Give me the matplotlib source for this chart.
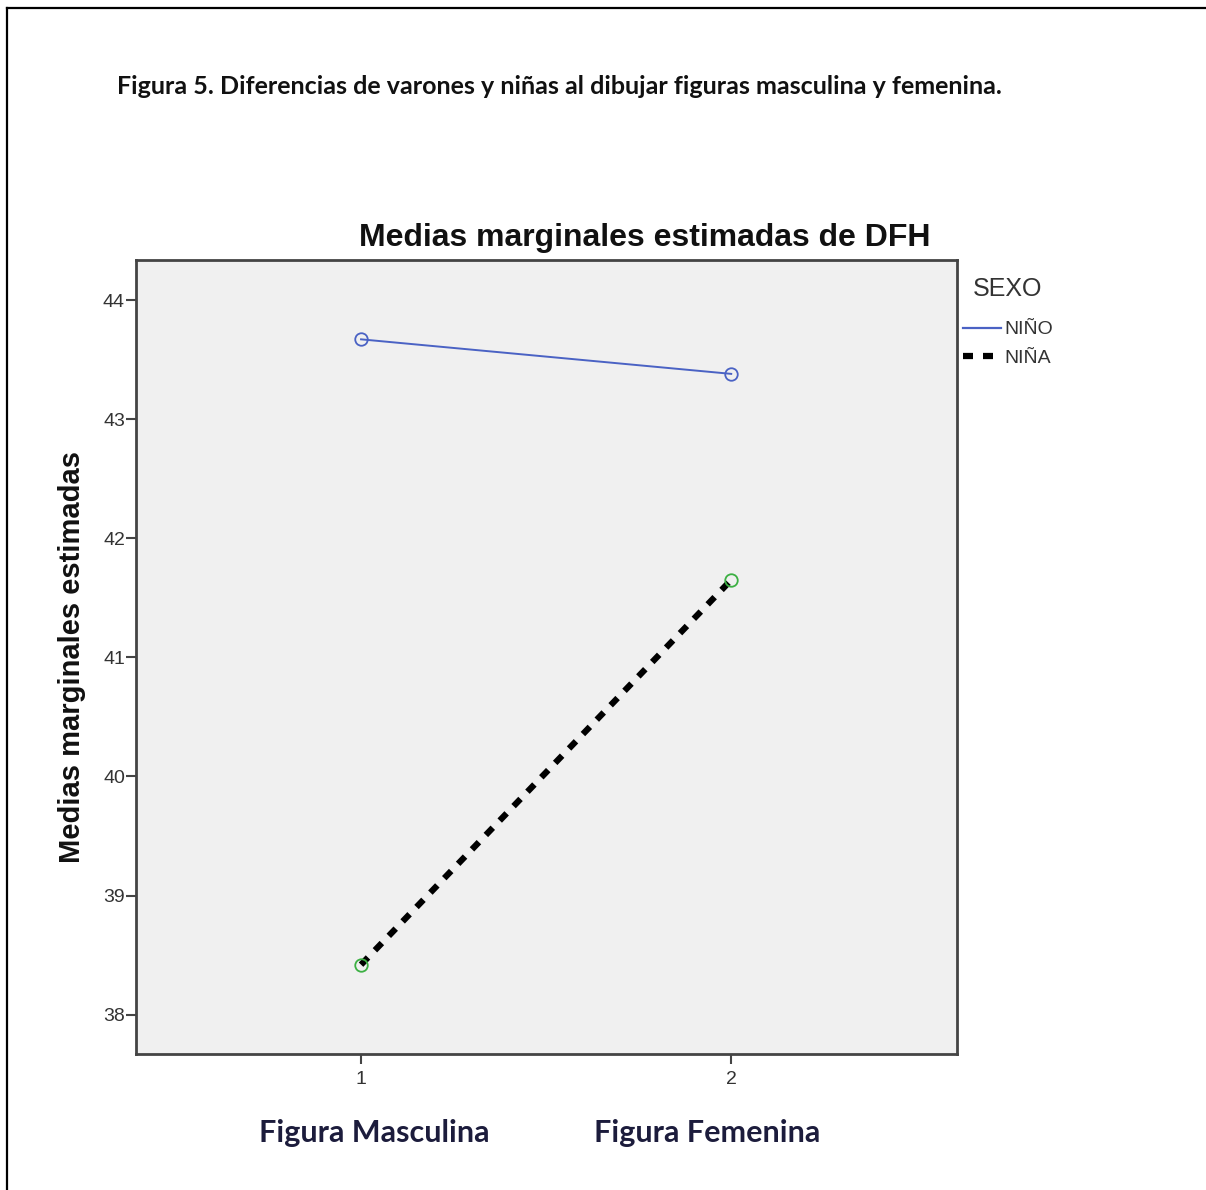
import matplotlib
matplotlib.use("Agg")
import matplotlib.pyplot as plt
from matplotlib.lines import Line2D

# estimated marginal means of DFH by figure drawn and sex
figuras  = [1, 2]
nino     = [43.67, 43.38]
nina     = [38.42, 41.65]
yticks   = [38, 39, 40, 41, 42, 43, 44]
xnames   = ["Figura Masculina", "Figura Femenina"]
heading  = "Figura 5. Diferencias de varones y niñas al dibujar figuras masculina y femenina."

W, H = 1206, 1190
fig = plt.figure(figsize=(W/100, H/100), dpi=100)
fig.patch.set_facecolor("white")

# page frame (left and top edges)
fig.add_artist(Line2D([7/W, 7/W], [0, 1-8/H], transform=fig.transFigure, color="black", lw=1.6))
fig.add_artist(Line2D([7/W, 1], [1-8/H, 1-8/H], transform=fig.transFigure, color="black", lw=1.6))

fig.text(117/W, 1-86/H, heading, family="Lato", weight="bold", fontsize=18, color="#111111", va="center", ha="left")

ax = fig.add_axes([136/W, 1-1054/H, 821/W, 794/H])
ax.set_facecolor("#f0f0f0")

ax.plot(figuras, nino, color="#4a62c4", lw=1.4, marker="o", ms=9, mfc="none", mec="#4a62c4", mew=1.3)
ax.plot(figuras, nina, color="black", lw=4.5, linestyle=(0, (1.6, 1.6)))
ax.plot(figuras, nina, color="none", marker="o", ms=9, mfc="none", mec="#3cb043", mew=1.3)

ax.set_xlim(0.392, 2.61)
ax.set_ylim(37.67, 44.336)
ax.set_xticks(figuras)
ax.set_yticks(yticks)
ax.tick_params(direction="out", length=7, width=1.5, color="#444444", labelcolor="#333333", labelsize=14)
ax.tick_params(axis="x", pad=5)
ax.tick_params(axis="y", pad=1)
for lbl in ax.get_xticklabels() + ax.get_yticklabels():
    lbl.set_family("Liberation Sans")
for s in ax.spines.values():
    s.set_color("#444444")
    s.set_linewidth(2)

ax.set_title("Medias marginales estimadas de DFH", family="Liberation Sans", weight="bold", fontsize=23, color="#111111", pad=10, x=0.62)
ax.set_ylabel("Medias marginales estimadas", family="Liberation Sans", weight="bold", fontsize=21, color="#111111", labelpad=12)

for xf, name in zip([374, 707], xnames):
    fig.text(xf/W, 1-1133/H, name, family="Lato", weight="bold", fontsize=22, color="#1c1c3c", ha="center", va="center")

handles = [Line2D([], [], color="#4a62c4", lw=1.6),
           Line2D([], [], color="black", lw=4.5, linestyle=(0, (1.6, 1.6)))]
leg = ax.legend(handles, ["NIÑO", "NIÑA"], loc="upper left", bbox_to_anchor=(0.998, 0.988), title="SEXO", frameon=False,
                handlelength=1.95, handletextpad=0.15, labelspacing=0.55, borderaxespad=0.0,
                prop={"family": "Liberation Sans", "size": 14})
leg.get_title().set_family("Liberation Sans")
leg.get_title().set_fontsize(18)
leg.get_title().set_color("#333333")
leg.get_title().set_position((10, 0))
leg._legend_box.align = "left"
leg._legend_box.sep = 14
for t in leg.get_texts():
    t.set_color("#333333")

fig.savefig("out.png", dpi=100)
